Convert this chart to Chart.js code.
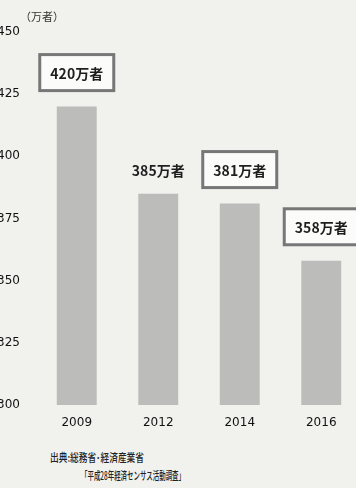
<!DOCTYPE html>
<html>
<head>
<meta charset="utf-8">
<script src="https://cdn.jsdelivr.net/npm/chart.js@4"></script>
<style>
  html, body { margin: 0; padding: 0; background: #f1f1ee; width: 356px; height: 488px; overflow: hidden; }
  body { position: relative; }
  #wrap { position: absolute; left: -14px; top: 0; width: 380px; height: 440px; }
  .src { position: absolute; font-family: "Noto Sans CJK JP", sans-serif; font-size: 11px; font-weight: 500; color: #222; white-space: nowrap; transform-origin: 0 50%; line-height: 14px; }
</style>
</head>
<body>
<div id="wrap"><canvas id="myChart"></canvas></div>
<div class="src" id="src1" data-w="94" style="left:50px; top:450px;">出典:総務省･経済産業省</div>
<div class="src" id="src2" data-w="104" style="left:81px; top:468px;">「平成28年経済センサス活動調査」</div>
<script>
const years = ['2009', '2012', '2014', '2016'];
const establishments = [420, 385, 381, 358];
const boxed = [true, false, true, true];
const unit = '（万者）';

const fontFace = '"DejaVu Sans", sans-serif';

// squeeze the source lines to their printed width
document.querySelectorAll('.src').forEach(el => {
    const w = el.getBoundingClientRect().width;
    el.style.transform = 'scaleX(' + (el.dataset.w / w) + ')';
});

// value labels above each bar, some in a frame
const valueLabels = {
    id: 'valueLabels',
    afterDatasetsDraw(chart) {
        const ctx = chart.ctx;
        const meta = chart.getDatasetMeta(0);
        ctx.save();
        ctx.textAlign = 'center';
        ctx.textBaseline = 'middle';
        ctx.font = 'bold 14px "Noto Sans CJK JP", sans-serif';
        meta.data.forEach((bar, i) => {
            const text = establishments[i] + '万者';
            const cx = bar.x;
            const cy = bar.y - (boxed[i] ? 34 : 24);
            if (boxed[i]) {
                ctx.fillStyle = '#fbfbfa';
                ctx.fillRect(cx - 37, cy - 18, 74, 36);
                ctx.strokeStyle = '#777';
                ctx.lineWidth = 3;
                ctx.strokeRect(cx - 37, cy - 18, 74, 36);
            }
            ctx.fillStyle = '#1e1e1e';
            ctx.fillText(text, cx, cy + 1);
        });
        // unit caption over the y axis
        const y = chart.scales.y;
        ctx.textAlign = 'left';
        ctx.font = '11px "Noto Sans CJK JP", sans-serif';
        ctx.fillStyle = '#333';
        ctx.fillText(unit, y.right - 16, chart.chartArea.top - 15);
        ctx.restore();
    }
};

const ctx = document.getElementById('myChart').getContext('2d');
new Chart(ctx, {
    type: 'bar',
    data: {
        labels: years,
        datasets: [{
            data: establishments,
            backgroundColor: '#bcbcbb',
            borderWidth: 0,
            categoryPercentage: 1,
            barPercentage: 0.49
        }]
    },
    options: {
        responsive: true,
        maintainAspectRatio: false,
        animation: false,
        layout: { padding: { top: 32, right: 4, left: 0, bottom: 0 } },
        plugins: {
            legend: { display: false },
            tooltip: { enabled: false }
        },
        scales: {
            x: {
                grid: { display: false, drawTicks: false },
                border: { display: false },
                ticks: { color: '#111', padding: 11, font: { family: fontFace, size: 12 } },
                afterFit(scale) { scale.height = 35; }
            },
            y: {
                min: 300,
                max: 450,
                grid: { display: false, drawTicks: false },
                border: { display: false },
                ticks: { stepSize: 25, color: '#111', padding: 16, font: { family: fontFace, size: 12 } },
                afterFit(scale) { scale.width = 50; }
            }
        }
    },
    plugins: [valueLabels]
});
</script>
</body>
</html>
